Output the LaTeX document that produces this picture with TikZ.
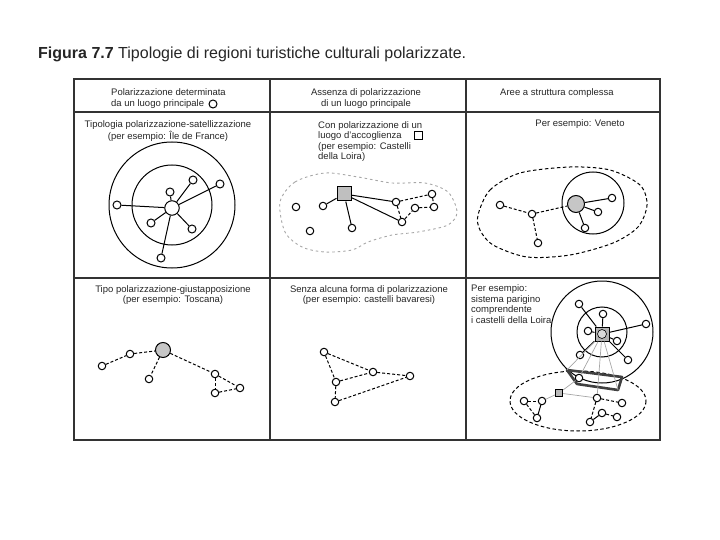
\documentclass[tikz,border=0pt]{standalone}
\usepackage{fontspec}
\setmainfont{Liberation Sans}
\usetikzlibrary{shapes.geometric}

\tikzset{
  tablerule/.style={line width=1.2pt, draw=black!80},
  txt/.style={inner sep=0pt, text=black!85, font=\fontsize{9.5}{10.8}\selectfont},
  sat/.style={circle, draw, fill=white, inner sep=0pt, minimum size=7.5pt, line width=1pt},
  hub/.style={circle, draw, fill=gray!45, inner sep=0pt, minimum size=15pt, line width=1pt},
  sqhub/.style={rectangle, draw, fill=gray!50, inner sep=0pt, minimum size=14pt, line width=1pt},
  link/.style={line width=1pt},
  dlink/.style={line width=1pt, dash pattern=on 3pt off 2pt},
  glink/.style={draw=gray!70, line width=0.7pt},
}

\begin{document}
\begin{tikzpicture}[x=1pt, y=-1pt]
\useasboundingbox (0,0) rectangle (720,540);

% title
\node[anchor=base west, inner sep=0pt, text=black!85, font=\fontsize{16}{19}\selectfont] (title) at (38,59)
  {\textbf{Figura 7.7} Tipologie di regioni turistiche culturali polarizzate.};

% table
\draw[tablerule] (74,79) rectangle (660,440);
\draw[tablerule] (74,112) -- (660,112);
\draw[tablerule] (74,278) -- (660,278);
\draw[tablerule] (270,79) -- (270,440);
\draw[tablerule] (466,79) -- (466,440);

% header
\node[txt, anchor=west, align=left] (head1) at (111,98.5) {Polarizzazione determinata\\da un luogo principale};
\node[sat, minimum size=8pt] (ringsym) at (213,104) {};
\node[txt, align=center] (head2) at (366,98.5) {Assenza di polarizzazione\\di un luogo principale};
\node[txt] (head3) at (557,93) {Aree a struttura complessa};

% polarizzazione-satellizzazione
\node[txt, align=center, font=\fontsize{9.5}{11.8}\selectfont] (text11) at (168,131) {Tipologia polarizzazione-satellizzazione\\(per esempio: \^Ile de France)};
\draw[link] (172,205) circle (63);
\draw[link] (172,205) circle (40);
\node[circle, draw, fill=white, inner sep=0pt, minimum size=14.5pt, line width=1pt] (c1) at (172,208) {};
\node[sat, minimum size=8pt] (a1) at (170,192) {};
\node[sat, minimum size=8pt] (a2) at (193,180) {};
\node[sat, minimum size=8pt] (a3) at (220,184) {};
\node[sat, minimum size=8pt] (a4) at (117,205) {};
\node[sat, minimum size=8pt] (a5) at (151,223) {};
\node[sat, minimum size=8pt] (a6) at (192,229) {};
\node[sat, minimum size=8pt] (a7) at (161,258) {};
\foreach \s in {a1,a2,a3,a4,a5,a6,a7}
  \draw[link] (c1) -- (\s);

% luogo d'accoglienza
\node[txt, anchor=west, align=left, font=\fontsize{9.5}{10.3}\selectfont] (text12) at (318,141.5)
  {Con polarizzazione di un\\luogo d'accoglienza\\(per esempio: Castelli\\della Loira)};
\node[rectangle, draw, line width=1pt, inner sep=0pt, minimum size=8pt] (boxsym) at (418,136) {};
\draw[gray!70, line width=0.9pt, dash pattern=on 2.5pt off 3pt] plot[smooth cycle] coordinates
  {(280,202) (295,182) (325,173) (358,177) (392,183) (425,183) (448,192) (457,212)
   (448,225) (418,232) (392,235) (368,242) (352,250) (325,252) (302,247) (285,232)};
\node[sqhub] (box) at (344,194) {};
\node[sat] (b1) at (296,207) {};
\node[sat] (b2) at (323,206) {};
\node[sat] (b3) at (310,231) {};
\node[sat] (b4) at (352,228) {};
\node[sat] (b5) at (396,202) {};
\node[sat] (b6) at (432,194) {};
\node[sat] (b7) at (415,208) {};
\node[sat] (b8) at (434,207) {};
\node[sat] (b9) at (402,222) {};
\foreach \s in {b2,b4,b5,b9}
  \draw[link] (box) -- (\s);
\draw[dlink] (b5) -- (b6);
\draw[dlink] (b5) -- (b9);
\draw[dlink] (b9) -- (b7);
\draw[dlink] (b7) -- (b8);
\draw[dlink] (b6) -- (b8);

% Veneto
\node[txt] (text13) at (580,124) {Per esempio: Veneto};
\draw[dlink, dash pattern=on 3.5pt off 2.5pt] plot[smooth cycle] coordinates
  {(478,215) (490,190) (520,173) (570,167) (610,170) (640,185) (647,205)
   (638,227) (613,243) (570,255) (527,257) (493,245) (480,230)};
\draw[link] (593,203) circle (31);
\node[hub, minimum size=17pt] (v0) at (576,204) {};
\node[sat] (v1) at (612,198) {};
\node[sat] (v2) at (598,212) {};
\node[sat] (v3) at (585,228) {};
\node[sat] (v4) at (500,205) {};
\node[sat] (v5) at (532,214) {};
\node[sat] (v6) at (538,243) {};
\foreach \s in {v1,v2,v3}
  \draw[link] (v0) -- (\s);
\draw[dlink] (v4) -- (v5);
\draw[dlink] (v5) -- (v0);
\draw[dlink] (v5) -- (v6);

% polarizzazione-giustapposizione
\node[txt, align=center] (text21) at (173,295) {Tipo polarizzazione-giustapposizione\\(per esempio: Toscana)};
\node[hub] (g0) at (163,350) {};
\node[sat] (t1) at (130,354) {};
\node[sat] (t2) at (102,366) {};
\node[sat] (t3) at (149,379) {};
\node[sat] (t4) at (215,374) {};
\node[sat] (t5) at (240,388) {};
\node[sat] (t6) at (215,393) {};
\draw[dlink] (t2) -- (t1);
\draw[dlink] (t1) -- (g0);
\draw[dlink] (g0) -- (t3);
\draw[dlink] (g0) -- (t4);
\draw[dlink] (t4) -- (t6);
\draw[dlink] (t4) -- (t5);
\draw[dlink] (t6) -- (t5);

% senza polarizzazione
\node[txt, align=center] (text22) at (369,295) {Senza alcuna forma di polarizzazione\\(per esempio: castelli bavaresi)};
\node[sat] (u1) at (324,352) {};
\node[sat] (u2) at (373,372) {};
\node[sat] (u3) at (410,376) {};
\node[sat] (u4) at (336,382) {};
\node[sat] (u5) at (335,402) {};
\draw[dlink] (u1) -- (u2);
\draw[dlink] (u1) -- (u4);
\draw[dlink] (u4) -- (u2);
\draw[dlink] (u2) -- (u3);
\draw[dlink] (u4) -- (u5);
\draw[dlink] (u5) -- (u3);

% sistema parigino
\node[txt, anchor=west, align=left, font=\fontsize{9.5}{10.7}\selectfont] (text23) at (471,304)
  {Per esempio:\\sistema parigino\\comprendente\\i castelli della Loira};
\draw[link] (602,332) circle (51);
\draw[link] (602,332) circle (25);
\draw[dlink, dash pattern=on 3.5pt off 2.5pt] (578,401) ellipse (68 and 30);
\coordinate (p1) at (567,370);
\coordinate (p2) at (622,377);
\coordinate (p3) at (618,390);
\coordinate (p4) at (577,384);
\node[sqhub, fill=gray!60] (ph) at (602,334) {};
\node[circle, draw, fill=gray!30, inner sep=0pt, minimum size=9pt, line width=0.6pt] (phc) at (ph) {};
\node[sat] (w1) at (579,304) {};
\node[sat] (w2) at (603,314) {};
\node[sat] (w3) at (646,324) {};
\node[sat] (w4) at (588,331) {};
\node[sat] (w5) at (617,341) {};
\node[sat] (w6) at (580,355) {};
\node[sat] (w7) at (628,360) {};
\foreach \s in {w1,w2,w3,w4,w5,w6,w7}
  \draw[link] (ph) -- (\s);
\draw[line width=2.6pt, black!75, line join=round] (p1) -- (p2) -- (p3) -- (p4) -- cycle;
\node[sqhub, minimum size=7.5pt, fill=gray!55] (q) at (559,393) {};
\node[sat] (x1) at (524,401) {};
\node[sat] (x2) at (542,401) {};
\node[sat] (x3) at (537,418) {};
\node[sat] (y1) at (579,378) {};
\node[sat] (y2) at (597,398) {};
\node[sat] (y3) at (622,403) {};
\node[sat] (y4) at (602,413) {};
\node[sat] (y5) at (617,417) {};
\node[sat] (y6) at (590,422) {};
\draw[glink] (ph) -- (p1);
\draw[glink] (ph) -- (y1);
\draw[glink] (ph) -- (y2);
\draw[glink] (ph) -- (p3);
\draw[glink] (q) -- (y1);
\draw[glink] (q) -- (y2);
\draw[glink] (q) -- (x2);
\draw[dlink] (x1) -- (x2);
\draw[dlink] (x1) -- (x3);
\draw[link] (x2) -- (x3);
\draw[dlink] (y2) -- (y3);
\draw[dlink] (y2) -- (y6);
\draw[link] (y6) -- (y4);
\draw[dlink] (y4) -- (y5);
\end{tikzpicture}
\end{document}
